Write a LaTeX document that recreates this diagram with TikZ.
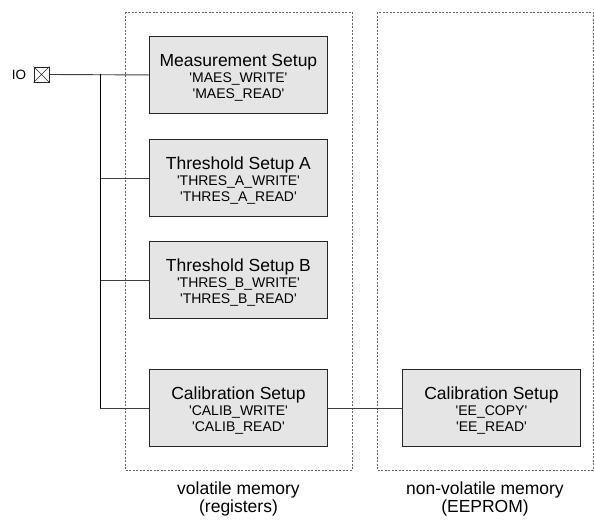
\documentclass[tikz,border=0pt]{standalone}
\usepackage{fontspec}
\setmainfont{Liberation Sans}
\begin{document}
\begin{tikzpicture}[x=1pt,y=-1pt,
  regbox/.style={draw=black!85,fill=black!10,line width=0.9pt,minimum width=178pt,minimum height=77pt,inner sep=0pt,anchor=north west,align=center,font=\fontsize{14}{16}\selectfont},
  area/.style={draw=black!60,line width=0.9pt,dash pattern=on 2pt off 1.5pt},
  wire/.style={draw=black!75,line width=0.9pt},
  lbl/.style={font=\fontsize{17.5}{18}\selectfont,align=center}]
\useasboundingbox (0,0) rectangle (594,520);

% memory areas
\draw[area] (125,12) rectangle (352,470);
\draw[area] (377,12) rectangle (593,470);

% straight single quotes around command names
\newcommand{\sq}[1]{\textquotesingle#1\textquotesingle}
\newcommand{\setupbox}[3]{%
  \rule{0pt}{17.5pt}{\fontsize{17.5}{16}\selectfont #1}\\
  \sq{#2}\\
  \sq{#3}}

\node[regbox] (meas)  at (149,36)  {\setupbox{Measurement Setup}{MAES\_WRITE}{MAES\_READ}};
\node[regbox] (thra)  at (149,139) {\setupbox{Threshold Setup A}{THRES\_A\_WRITE}{THRES\_A\_READ}};
\node[regbox] (thrb)  at (149,241) {\setupbox{Threshold Setup B}{THRES\_B\_WRITE}{THRES\_B\_READ}};
\node[regbox] (calr)  at (149,369) {\setupbox{Calibration Setup}{CALIB\_WRITE}{CALIB\_READ}};
\node[regbox] (cale)  at (402,369) {\setupbox{Calibration Setup}{EE\_COPY}{EE\_READ}};

% IO pin
\node[draw=black!85,line width=0.9pt,minimum size=15pt,inner sep=0pt] (io) at (41.5,74.5) {};
\draw[black!85,line width=0.7pt] (io.north west) -- (io.south east) (io.south west) -- (io.north east);
\node[font=\fontsize{13.5}{14}\selectfont,anchor=east] (iolbl) at (io.west) [xshift=-4pt] {IO};

% bus
\coordinate (bt) at (100,74.5);
\coordinate (bb) at (bt |- calr.west);
\draw[wire] (io.east) -- (meas.west);
\draw[wire] (bt |- thra.west) -- (thra.west);
\draw[wire] (bt |- thrb.west) -- (thrb.west);
\draw[wire] (bb) -- (calr.west);
\draw[line width=0.9pt,line cap=rect] (bt) -- (bb);
\draw[wire] (calr.east) -- (cale.west);

% area captions
\node[lbl] (vol) at (238.5,499) {volatile memory\\(registers)};
\node[lbl] (nvol) at (485,499) {non-volatile memory\\(EEPROM)};
\end{tikzpicture}
\end{document}
